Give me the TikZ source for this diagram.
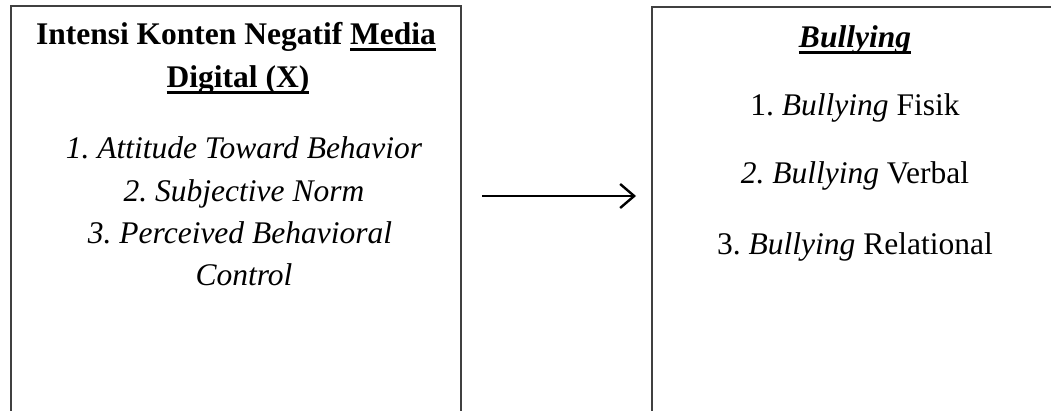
\documentclass[tikz,border=0pt]{standalone}
\usepackage{fontspec}
\setmainfont{Liberation Serif}
\usetikzlibrary{arrows.meta}
\frenchspacing
\newcommand{\hurufbesar}{\fontsize{31.5}{42.5}\selectfont}
\newcommand{\garisbawah}[1]{\setbox0\hbox{#1}\rlap{\rule[-7pt]{\wd0}{3.2pt}}\box0}

\begin{document}
\begin{tikzpicture}[x=1pt, y=-1pt,
    kotak/.style={draw=black!75, line width=1.6pt, anchor=north west},
    teks/.style={font=\hurufbesar, anchor=base, inner sep=0pt},
    panah/.style={line width=2.6pt, -{Straight Barb[length=14pt, width=24pt, line width=2.4pt]}}]
    \useasboundingbox (0,0) rectangle (1051,410);
    \node[kotak, minimum width=450, minimum height=520] (kotakX) at (10,5) {};
    \node[kotak, minimum width=500, minimum height=520] (kotakY) at (651,6) {};
    \node[teks, font=\hurufbesar\bfseries] (judulX1) at (236,44) {Intensi Konten Negatif \garisbawah{Media}};
    \node[teks, font=\hurufbesar\bfseries] (judulX2) at (238,87) {\garisbawah{Digital (X)}};
    \node[teks, font=\hurufbesar\itshape] (x1) at (244,158) {1. Attitude Toward Behavior};
    \node[teks, font=\hurufbesar\itshape] (x2) at (244,201) {2. Subjective Norm};
    \node[teks, font=\hurufbesar\itshape] (x3) at (240,243) {3. Perceived Behavioral};
    \node[teks, font=\hurufbesar\itshape] (x4) at (244,285) {Control};
    \node[teks, font=\hurufbesar\bfseries\itshape] (judulY) at (855,47) {\garisbawah{Bullying}};
    \node[teks] (y1) at (855,115) {1. \textit{Bullying} Fisik};
    \node[teks] (y2) at (855,183) {\textit{2. Bullying} Verbal};
    \node[teks] (y3) at (855,254) {3. \textit{Bullying} Relational};
    \coordinate (awal) at (482,196);
    \coordinate (akhir) at (636,196);
    \draw[panah] (awal) -- (akhir);
\end{tikzpicture}
\end{document}
